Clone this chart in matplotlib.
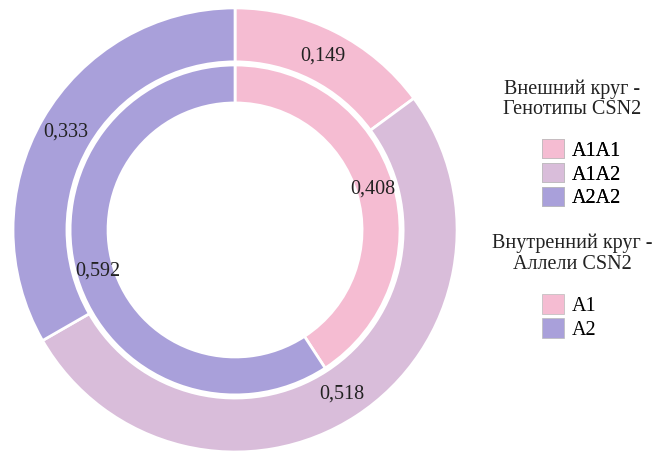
import matplotlib.pyplot as plt
from matplotlib.patches import Patch

# data
genotypes = ['A1A1', 'A1A2', 'A2A2']
genotype_freq = [0.149, 0.518, 0.333]
alleles = ['A1', 'A2']
allele_freq = [0.408, 0.592]

outer_colors = ['#F5BCD2', '#D9BDDA', '#A9A0DA']
inner_colors = ['#F5BCD2', '#A9A0DA']

plt.rcParams['font.family'] = ['Liberation Serif', 'DejaVu Serif']

def fmt(v):
    return f'{v:.3f}'.replace('.', ',')

fig = plt.figure(figsize=(6.56, 4.55), dpi=100)
ax = fig.add_axes([0.0198, 0.0066, 0.677, 0.976])
ax.set_aspect('equal')

outer, outer_txt = ax.pie(genotype_freq, radius=1.0, startangle=90, counterclock=False,
                          colors=outer_colors, labels=[fmt(v) for v in genotype_freq],
                          labeldistance=0.88,
                          wedgeprops=dict(width=0.243, edgecolor='white', linewidth=2.0),
                          textprops=dict(fontsize=14.5, color='#222222'))
inner, inner_txt = ax.pie(allele_freq, radius=0.743, startangle=90, counterclock=False,
                          colors=inner_colors, labels=[fmt(v) for v in allele_freq],
                          labeldistance=0.87,
                          wedgeprops=dict(width=0.171, edgecolor='white', linewidth=2.0),
                          textprops=dict(fontsize=14.5, color='#222222'))
for t in outer_txt + inner_txt:
    t.set_ha('center')
ax.set_xlim(-1, 1)
ax.set_ylim(-1, 1)

# legends
fig.text(0.872, 0.782, 'Внешний круг -\nГенотипы CSN2', ha='center', va='center',
         fontsize=14.5, linespacing=1.05, color='#222222')
leg1 = fig.legend([Patch(facecolor=c, edgecolor='#bbbbbb', linewidth=0.5) for c in outer_colors],
                  genotypes, loc='upper left', bbox_to_anchor=(0.814, 0.712), frameon=False,
                  fontsize=14.5, handlelength=1.1, handleheight=1.1, handletextpad=0.4,
                  labelspacing=0.12, borderaxespad=0)
fig.text(0.872, 0.442, 'Внутренний круг -\nАллели CSN2', ha='center', va='center',
         fontsize=14.5, linespacing=1.1, color='#222222')
leg2 = fig.legend([Patch(facecolor=c, edgecolor='#bbbbbb', linewidth=0.5) for c in inner_colors],
                  alleles, loc='upper left', bbox_to_anchor=(0.814, 0.371), frameon=False,
                  fontsize=14.5, handlelength=1.1, handleheight=1.1, handletextpad=0.4,
                  labelspacing=0.12, borderaxespad=0)
fig.add_artist(leg1)

fig.savefig('out.png', dpi=100)
